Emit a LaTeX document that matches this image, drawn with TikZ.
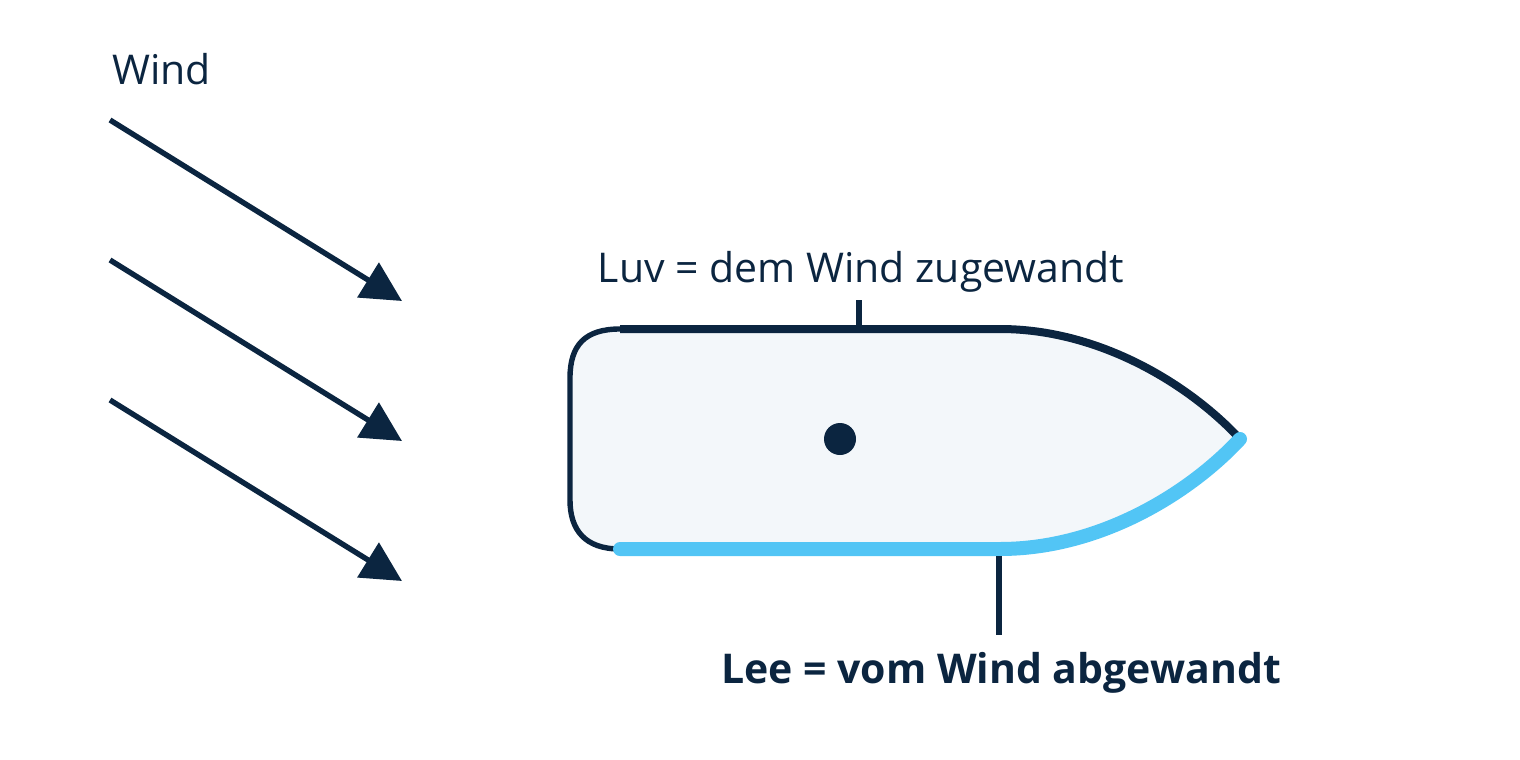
\documentclass[tikz,border=0pt]{standalone}
\usepackage{fontspec}
\setmainfont{Open Sans}
\usetikzlibrary{arrows.meta}
\definecolor{navy}{HTML}{0B2540}
\definecolor{sky}{HTML}{52C5F5}
\definecolor{hull}{HTML}{F3F7FA}
\begin{document}
\begin{tikzpicture}[x=0.5pt,y=-0.5pt,
  windarrow/.style={draw=navy,line width=2.7pt,-{Triangle[length=20pt,width=20pt]}},
  label/.style={text=navy,inner sep=0pt,font=\fontsize{20.5pt}{24pt}\selectfont},
  tick/.style={draw=navy,line width=2.7pt}]
\useasboundingbox (0,0) rectangle (1520,760);
% wind
\node[label,anchor=base west] (wind) at (112,84) {Wind};
\foreach \y/\n in {120/a,260/b,400/c}{
  \coordinate (s\n) at (110,\y);
  \coordinate (e\n) at (402,\y+181);
  \draw[windarrow] (s\n) -- (e\n);
}
% hull fill
\coordinate (tl) at (620,329);
\coordinate (tr) at (1000,329);
\coordinate (bow) at (1240,439);
\coordinate (br) at (1000,549);
\coordinate (bl) at (620,549);
\fill[hull] (tl) -- (tr) .. controls (1100,329) and (1190,385) .. (bow)
  .. controls (1190,493) and (1100,549) .. (br) -- (bl)
  .. controls (585,549) and (570,530) .. (570,500) -- (570,378)
  .. controls (570,345) and (585,329) .. (tl) -- cycle;
% stern
\draw[navy,line width=2.7pt] (bl) .. controls (585,549) and (570,530) .. (570,500) -- (570,378)
  .. controls (570,345) and (585,329) .. (tl);
% windward side
\draw[navy,line width=4pt] (tl) -- (tr) .. controls (1100,329) and (1190,385) .. (bow);
% leeward side
\draw[sky,line width=7pt,line cap=round] (bow) .. controls (1190,493) and (1100,549) .. (br) -- (bl);
% centre dot
\fill[navy] (840,439) circle (16);
% labels
\node[label,anchor=base] (luv) at (861,282) {Luv = dem Wind zugewandt};
\coordinate (luvtop) at (859,300);
\coordinate (luvbot) at (859,326);
\draw[tick] (luvtop) -- (luvbot);
\node[label,anchor=base,font=\fontsize{20.5pt}{24pt}\selectfont\bfseries] (lee) at (1001,683) {Lee = vom Wind abgewandt};
\coordinate (leetop) at (999,556);
\coordinate (leebot) at (999,635);
\draw[tick] (leetop) -- (leebot);
\end{tikzpicture}
\end{document}
